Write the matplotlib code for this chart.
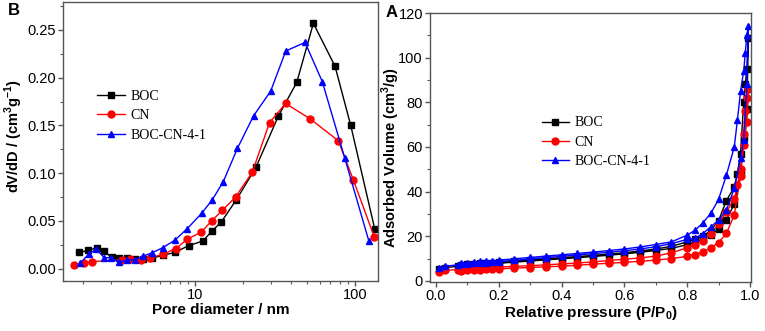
import numpy as np
import matplotlib
matplotlib.use("Agg")
from matplotlib import pyplot as plt
from matplotlib.ticker import MultipleLocator, NullFormatter

# ---- panel B : pore size distribution ----
boc_d = [1.89, 2.15, 2.43, 2.70, 3.01, 3.35, 3.74, 4.22, 4.75, 5.36, 6.33, 7.50,
         9.1, 11.2, 12.7, 14.6, 18.1, 24.0, 33.2, 43.2, 54.9, 75.0, 94.0, 133]
boc_v = [0.017, 0.019, 0.022, 0.018, 0.012, 0.011, 0.0115, 0.0098, 0.0098, 0.011, 0.014, 0.017,
         0.024, 0.029, 0.039, 0.049, 0.072, 0.106, 0.160, 0.195, 0.257, 0.212, 0.150, 0.041]

cn_d = [1.75, 2.02, 2.28, 3.48, 3.93, 4.6, 5.23, 6.28, 7.6, 8.95, 10.9, 12.7, 14.8,
        17.9, 22.8, 29.2, 36.8, 52.3, 78.6, 97.6, 132]
cn_v = [0.0034, 0.0058, 0.0073, 0.0095, 0.0098, 0.0087, 0.011, 0.015, 0.021, 0.031, 0.038,
        0.050, 0.061, 0.075, 0.101, 0.153, 0.173, 0.157, 0.134, 0.093, 0.033]

bcn_d = [1.91, 2.18, 2.42, 2.70, 3.0, 3.35, 3.75, 4.2, 4.7, 5.4, 6.3, 7.5, 8.95, 11.0,
         12.8, 15.0, 18.4, 23.2, 29.7, 36.9, 48.7, 62.4, 86.2, 122]
bcn_v = [0.0058, 0.0156, 0.0204, 0.0115, 0.0115, 0.0068, 0.009, 0.0094, 0.0128, 0.0167,
         0.022, 0.030, 0.042, 0.058, 0.072, 0.091, 0.126, 0.160, 0.186, 0.228, 0.237,
         0.196, 0.116, 0.029]

# ---- panel A : N2 isotherms (adsorption then desorption) ----
p_ads = [0.01, 0.03, 0.07, 0.08, 0.10, 0.12, 0.14, 0.16, 0.18, 0.20, 0.25, 0.30, 0.35,
         0.40, 0.45, 0.50, 0.55, 0.60, 0.65, 0.70, 0.75, 0.80, 0.825, 0.85, 0.875, 0.90,
         0.925, 0.95, 0.97, 0.98, 0.99, 0.995]
p_des = [0.99, 0.985, 0.98, 0.97, 0.96, 0.95, 0.925, 0.90, 0.875, 0.85, 0.825, 0.80,
         0.75, 0.70, 0.65, 0.60, 0.55, 0.50, 0.45, 0.40, 0.35, 0.30, 0.25, 0.20, 0.18,
         0.16, 0.14, 0.12, 0.10, 0.08]

boc_ads = [5.5, 6.0, 6.5, 6.6, 6.9, 7.1, 7.3, 7.5, 7.7, 7.9, 8.4, 8.9, 9.4, 9.9, 10.4,
           10.9, 11.5, 12.1, 12.8, 13.6, 14.6, 16.2, 17.3, 18.7, 20.5, 23.3, 27.3, 34.5,
           49, 64, 77, 109]
boc_des = [95, 88, 80, 57, 48, 42, 36, 27, 22.5, 20, 18.7, 17.5, 15.5, 14.3, 13.4,
           12.6, 12.0, 11.4, 10.9, 10.4, 9.9, 9.4, 8.9, 8.4, 8.2, 8.0, 7.8, 7.6, 7.4, 7.1]

cn_ads = [4.0, 4.8, 5.0, 4.3, 5.0, 5.1, 5.1, 5.2, 5.3, 5.4, 5.7, 6.0, 6.3, 6.6, 7.0, 7.5,
          7.9, 8.3, 8.8, 9.3, 10.0, 11.0, 11.8, 13.0, 14.8, 17.2, 21.3, 29.5, 47, 61, 71, 86]
cn_des = [82, 76, 66, 50, 43, 36.5, 31, 25.5, 21, 18, 16.3, 14.8, 12.6, 11.1, 10.3, 9.7,
          9.1, 8.5, 8.0, 7.6, 7.2, 6.8, 6.5, 6.2, 6.1, 6.0, 5.9, 5.8, 5.7, 5.6]

bcn_ads = [6.0, 6.6, 7.2, 7.4, 7.6, 7.8, 8.0, 8.2, 8.4, 8.6, 9.2, 9.8, 10.4, 11.0, 11.6,
           12.2, 12.8, 13.5, 14.3, 15.3, 16.7, 18.6, 19.0, 21.2, 24.2, 27.2, 31.7, 41.4, 55,
           63, 88, 114]
bcn_des = [110, 102, 94, 85, 72, 60, 47.4, 36.5, 30.2, 26, 22.7, 20.5, 17.5, 16.3, 15.2,
           14.3, 13.6, 12.9, 12.3, 11.7, 11.1, 10.5, 9.9, 9.3, 9.1, 8.9, 8.7, 8.5, 8.2, 8.0]

labels = ['BOC', 'CN', 'BOC-CN-4-1']
colors = ['black', 'red', 'blue']
markers = ['s', 'o', '^']

plt.rcParams['font.family'] = 'Liberation Sans'
plt.rcParams['font.size'] = 10.5
plt.rcParams['mathtext.fontset'] = 'custom'
plt.rcParams['mathtext.rm'] = 'Liberation Sans'
plt.rcParams['mathtext.bf'] = 'Liberation Sans:bold'

fig = plt.figure(figsize=(7.65, 3.31), dpi=100)


def style_axes(ax):
    for s in ax.spines.values():
        s.set_color('#555555')
        s.set_linewidth(1.0)
    ax.tick_params(which='major', direction='out', length=3.5, width=1, color='#555555', pad=1.5)
    ax.tick_params(which='minor', direction='out', length=2.5, width=0.8, color='#555555')
    ax.tick_params(top=False, right=False)


# left panel
axB = fig.add_axes([0.0827, 0.151, 0.4113, 0.842])
for d, v, lab, c, m in zip([boc_d, cn_d, bcn_d], [boc_v, cn_v, bcn_v], labels, colors, markers):
    axB.plot(d, v, color=c, marker=m, ms=5, lw=1.0, label=lab)
axB.set_xscale('log')
axB.set_xlim(1.5, 139)
axB.set_ylim(-0.013, 0.279)
axB.yaxis.set_major_locator(MultipleLocator(0.05))
axB.yaxis.set_minor_locator(MultipleLocator(0.025))
axB.yaxis.set_major_formatter(matplotlib.ticker.FormatStrFormatter('%.2f'))
axB.xaxis.set_major_formatter(matplotlib.ticker.FuncFormatter(lambda x, p: '%d' % x))
axB.xaxis.set_minor_formatter(NullFormatter())
style_axes(axB)
axB.set_xlabel('Pore diameter / nm', fontsize=11, fontweight='bold', labelpad=1)
axB.set_ylabel(r'dV/dD / (cm$^{\mathbf{3}}$g$^{\mathbf{-1}}$)', fontsize=10.5,
               fontweight='bold')
axB.yaxis.set_label_coords(-0.122, 0.52)
axB.legend(loc='upper left', bbox_to_anchor=(0.09, 0.705), frameon=False,
           prop={'family': 'Liberation Serif', 'size': 10}, handlelength=2.0,
           handletextpad=0.4, labelspacing=0.45, borderaxespad=0)

# right panel
axA = fig.add_axes([0.562, 0.148, 0.420, 0.814])
for a, dsb, lab, c, m in zip([boc_ads, cn_ads, bcn_ads], [boc_des, cn_des, bcn_des],
                             labels, colors, markers):
    axA.plot(p_ads + p_des, a + dsb, color=c, marker=m, ms=5, lw=1.0, label=lab)
axA.set_xlim(-0.019, 1.004)
axA.set_ylim(-0.5, 120.2)
axA.xaxis.set_major_locator(MultipleLocator(0.2))
axA.xaxis.set_minor_locator(MultipleLocator(0.1))
axA.yaxis.set_major_locator(MultipleLocator(20))
axA.yaxis.set_minor_locator(MultipleLocator(10))
axA.xaxis.set_major_formatter(matplotlib.ticker.FormatStrFormatter('%.1f'))
style_axes(axA)
axA.set_xlabel(r'Relative pressure (P/P$_{\mathbf{0}}$)', fontsize=11, fontweight='bold',
               labelpad=1)
axA.set_ylabel(r'Adsorbed Volume (cm$^{\mathbf{3}}$/g)', fontsize=10.5, fontweight='bold')
axA.yaxis.set_label_coords(-0.088, 0.46)
axA.legend(loc='upper left', bbox_to_anchor=(0.33, 0.635), frameon=False,
           prop={'family': 'Liberation Serif', 'size': 10}, handlelength=2.0,
           handletextpad=0.4, labelspacing=0.45, borderaxespad=0)

fig.text(0.010, 0.955, 'B', fontsize=12, fontweight='bold')
fig.text(0.504, 0.950, 'A', fontsize=12, fontweight='bold')

fig.savefig('out.png', dpi=100)
